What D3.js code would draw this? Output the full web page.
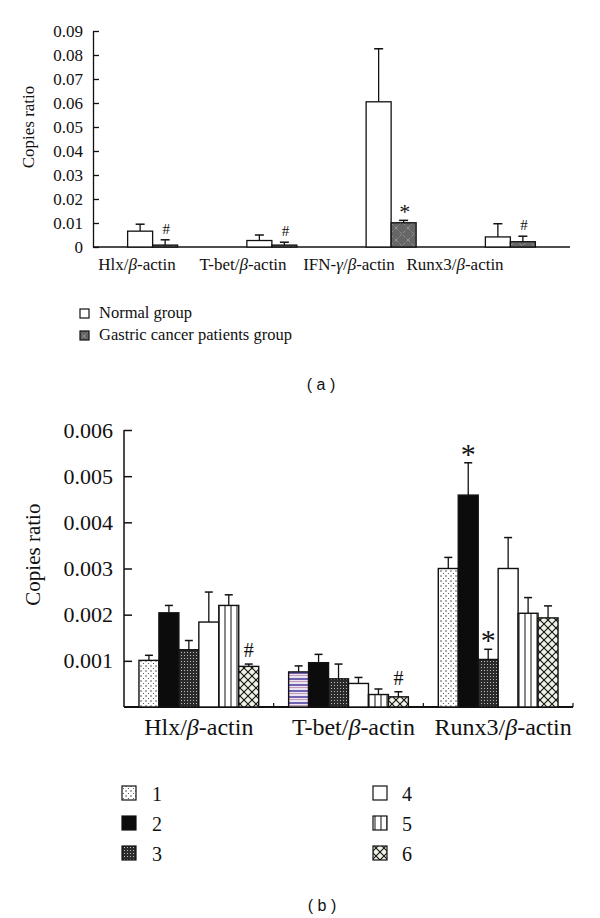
<!DOCTYPE html>
<html>
<head>
<meta charset="utf-8">
<script src="https://cdn.jsdelivr.net/npm/d3@7"></script>
<style>
  body { margin: 0; background: #fff; }
  svg { display: block; }
  text { font-family: "Liberation Serif", "Times New Roman", serif; fill: #111; }
  .panel-tag { font-family: "Liberation Sans", Arial, sans-serif; }
</style>
</head>
<body>
<div id="chart"></div>
<script>
// ---- panel (a) data ----
var genesA = ["Hlx", "T-bet", "IFN-γ", "Runx3"];
var normalA = [0.0066, 0.0027, 0.0605, 0.0042];
var normalErrA = [0.0029, 0.0023, 0.0221, 0.0055];
var gastricA = [0.0008, 0.0008, 0.0101, 0.0022];
var gastricErrA = [0.0022, 0.0012, 0.0010, 0.0023];
var marksA = ["#", "#", "*", "#"];
var ticksA = [0, 0.01, 0.02, 0.03, 0.04, 0.05, 0.06, 0.07, 0.08, 0.09];
var legendA = ["Normal group", "Gastric cancer patients group"];

// ---- panel (b) data ----
var genesB = ["Hlx", "T-bet", "Runx3"];
var groupsB = ["1", "2", "3", "4", "5", "6"];
var hlxB = [0.00101, 0.00204, 0.00124, 0.00184, 0.00220, 0.00088];
var hlxErrB = [0.00011, 0.00016, 0.00020, 0.00065, 0.00023, 0.00005];
var tbetB = [0.00076, 0.00096, 0.00061, 0.00051, 0.00027, 0.00022];
var tbetErrB = [0.00013, 0.00018, 0.00032, 0.00013, 0.00012, 0.00011];
var runx3B = [0.00300, 0.00459, 0.00103, 0.00300, 0.00203, 0.00193];
var runx3ErrB = [0.00024, 0.00070, 0.00022, 0.00067, 0.00034, 0.00026];
var marksB = [["", "", "", "", "", "#"], ["", "", "", "", "", "#"], ["", "*", "*", "", "", ""]];
var ticksB = [0.001, 0.002, 0.003, 0.004, 0.005, 0.006];

var svg = d3.select("#chart").append("svg")
  .attr("width", 600)
  .attr("height", 918);

// ---- fill patterns ----
var defs = svg.append("defs");

var pg = defs.append("pattern").attr("id", "gastric")
  .attr("patternUnits", "userSpaceOnUse").attr("width", 12).attr("height", 12);
pg.append("rect").attr("width", 12).attr("height", 12).attr("fill", "#666");
pg.append("path").attr("d", "M0,12L12,0M0,0L12,12")
  .attr("stroke", "#9a9a9a").attr("stroke-width", 0.8).attr("stroke-dasharray", "3,2");

var p1 = defs.append("pattern").attr("id", "b1")
  .attr("patternUnits", "userSpaceOnUse").attr("width", 5).attr("height", 5);
p1.append("rect").attr("width", 5).attr("height", 5).attr("fill", "#fff");
p1.append("circle").attr("cx", 1).attr("cy", 1).attr("r", 0.7).attr("fill", "#222");
p1.append("circle").attr("cx", 3.5).attr("cy", 3.5).attr("r", 0.6).attr("fill", "#446");

var p3 = defs.append("pattern").attr("id", "b3")
  .attr("patternUnits", "userSpaceOnUse").attr("width", 3).attr("height", 3);
p3.append("rect").attr("width", 3).attr("height", 3).attr("fill", "#2b2b2b");
p3.append("rect").attr("x", 1).attr("y", 1).attr("width", 1).attr("height", 1).attr("fill", "#bbb");

var p5 = defs.append("pattern").attr("id", "b5")
  .attr("patternUnits", "userSpaceOnUse").attr("width", 6).attr("height", 6);
p5.append("rect").attr("width", 6).attr("height", 6).attr("fill", "#fff");
p5.append("line").attr("x1", 3).attr("x2", 3).attr("y1", 0).attr("y2", 6)
  .attr("stroke", "#111").attr("stroke-width", 1);

var p6 = defs.append("pattern").attr("id", "b6")
  .attr("patternUnits", "userSpaceOnUse").attr("width", 8).attr("height", 8);
p6.append("rect").attr("width", 8).attr("height", 8).attr("fill", "#eef3e6");
p6.append("circle").attr("cx", 4).attr("cy", 4).attr("r", 1.6).attr("fill", "#d8e8c8");
p6.append("path").attr("d", "M0,0L8,8M8,0L0,8")
  .attr("stroke", "#111").attr("stroke-width", 1.1);

var pt = defs.append("pattern").attr("id", "bstripe")
  .attr("patternUnits", "userSpaceOnUse").attr("width", 4).attr("height", 6);
pt.append("rect").attr("width", 4).attr("height", 6).attr("fill", "#e9e4f0");
pt.append("rect").attr("y", 0).attr("width", 4).attr("height", 2).attr("fill", "#6f62b0");
pt.append("rect").attr("y", 3).attr("width", 4).attr("height", 1).attr("fill", "#c79ab8");

var fillsB = ["url(#b1)", "#0c0c0c", "url(#b3)", "#fff", "url(#b5)", "url(#b6)"];

// category label with italic greek letters
function geneLabel(sel, name) {
  name.split(/([α-ω])/).forEach(function (part, i) {
    if (part === "") return;
    sel.append("tspan").style("font-style", i % 2 ? "italic" : "normal").text(part);
  });
  sel.append("tspan").text("/");
  sel.append("tspan").style("font-style", "italic").text("β");
  sel.append("tspan").text("-actin");
}

// =================== panel (a) ===================
var xA = d3.scaleBand().domain(genesA).range([93, 570]);
var yA = d3.scaleLinear().domain([0, 0.09]).range([247, 31]);
var bwA = 25;

var gA = svg.append("g");

gA.append("g")
  .attr("transform", "translate(93,0)")
  .call(d3.axisLeft(yA).tickValues(ticksA).tickSizeInner(-6).tickSizeOuter(0).tickPadding(10)
    .tickFormat(d => d === 0 ? "0" : d3.format(".2f")(d)))
  .call(g => g.selectAll("text").style("font-size", "17px").style("font-family", "Liberation Serif"))
  .call(g => g.selectAll("line,path").attr("stroke", "#111").attr("stroke-width", 1.3));

gA.append("line")
  .attr("x1", xA.range()[0]).attr("x2", xA.range()[1])
  .attr("y1", yA(0)).attr("y2", yA(0))
  .attr("stroke", "#111").attr("stroke-width", 1.5);

gA.append("text")
  .attr("transform", "translate(34," + (yA(0.045) - 12) + ") rotate(-90)")
  .attr("text-anchor", "middle")
  .style("font-size", "17px")
  .text("Copies ratio");

function errBar(g, cx, y0, y1, cap) {
  g.append("line").attr("x1", cx).attr("x2", cx).attr("y1", y0).attr("y2", y1)
    .attr("stroke", "#111").attr("stroke-width", 1.3);
  g.append("line").attr("x1", cx - cap / 2).attr("x2", cx + cap / 2).attr("y1", y1).attr("y2", y1)
    .attr("stroke", "#111").attr("stroke-width", 1.5);
}

genesA.forEach(function (gene, i) {
  var cx = xA(gene) + xA.bandwidth() / 2;
  // normal
  errBar(gA, cx - bwA / 2, yA(normalA[i]), yA(normalA[i] + normalErrA[i]), 9);
  gA.append("rect")
    .attr("x", cx - bwA).attr("y", yA(normalA[i]))
    .attr("width", bwA).attr("height", yA(0) - yA(normalA[i]))
    .attr("fill", "#fff").attr("stroke", "#111").attr("stroke-width", 1.3);
  // gastric
  errBar(gA, cx + bwA / 2, yA(gastricA[i]), yA(gastricA[i] + gastricErrA[i]), 9);
  gA.append("rect")
    .attr("x", cx).attr("y", yA(gastricA[i]))
    .attr("width", bwA).attr("height", yA(0) - yA(gastricA[i]))
    .attr("fill", "url(#gastric)").attr("stroke", "#111").attr("stroke-width", 1.3);
  var top = yA(gastricA[i] + gastricErrA[i]);
  var star = marksA[i] === "*";
  gA.append("text")
    .attr("x", cx + bwA / 2 + 1)
    .attr("y", star ? top - 1 : top - 6)
    .attr("text-anchor", "middle")
    .style("font-size", star ? "22px" : "15px")
    .text(marksA[i]);
});

var labA = d3.scalePoint().domain(genesA).range([137, 455]);
genesA.forEach(function (gene) {
  var t = gA.append("text")
    .attr("x", labA(gene)).attr("y", 270)
    .attr("text-anchor", "middle")
    .style("font-size", "17px");
  geneLabel(t, gene);
});

legendA.forEach(function (name, i) {
  gA.append("rect")
    .attr("x", 80).attr("y", 309 + i * 22)
    .attr("width", 9).attr("height", 9)
    .attr("fill", i === 0 ? "#fff" : "url(#gastric)")
    .attr("stroke", "#111").attr("stroke-width", 1.2);
  gA.append("text")
    .attr("x", 99).attr("y", 318 + i * 22)
    .style("font-size", "16.5px")
    .text(name);
});

svg.append("text").attr("class", "panel-tag")
  .attr("x", 321).attr("y", 390)
  .attr("text-anchor", "middle")
  .style("font-size", "16px")
  .text("( a )");

// =================== panel (b) ===================
var xB = d3.scaleBand().domain(genesB).range([124, 573]).paddingInner(0.2).paddingOuter(0.1);
var xB1 = d3.scaleBand().domain(groupsB).range([0, xB.bandwidth()]);
var yB = d3.scaleLinear().domain([0, 0.006]).range([707, 430]);
var valsB = [hlxB, tbetB, runx3B];
var errsB = [hlxErrB, tbetErrB, runx3ErrB];

var gB = svg.append("g");

gB.append("g")
  .attr("transform", "translate(124,0)")
  .call(d3.axisLeft(yB).tickValues(ticksB).tickSizeInner(-8).tickSizeOuter(0).tickPadding(11)
    .tickFormat(d3.format(".3f")))
  .call(g => g.selectAll("text").style("font-size", "22px").style("font-family", "Liberation Serif"))
  .call(g => g.select(".domain").attr("d", "M0," + yB(0) + "V" + yB(0.006)))
  .call(g => g.selectAll("line,path").attr("stroke", "#111").attr("stroke-width", 1.5));

gB.append("line")
  .attr("x1", 124).attr("x2", 573)
  .attr("y1", yB(0)).attr("y2", yB(0))
  .attr("stroke", "#111").attr("stroke-width", 1.8);

// small ticks at the group boundaries
genesB.forEach(function (gene) {
  var bx = xB(gene) + xB.bandwidth() + xB.step() * xB.paddingInner() / 2;
  gB.append("line")
    .attr("x1", bx).attr("x2", bx).attr("y1", yB(0)).attr("y2", yB(0) - 4)
    .attr("stroke", "#111").attr("stroke-width", 1.2);
});

gB.append("text")
  .attr("transform", "translate(40," + yB(0.0033) + ") rotate(-90)")
  .attr("text-anchor", "middle")
  .style("font-size", "21px")
  .text("Copies ratio");

genesB.forEach(function (gene, gi) {
  valsB[gi].forEach(function (v, j) {
    var x0 = xB(gene) + xB1(groupsB[j]);
    var w = xB1.bandwidth();
    var top = yB(v + errsB[gi][j]);
    errBar(gB, x0 + w / 2, yB(v), top, 8);
    var fill = fillsB[j];
    if (gi === 1 && j === 0) fill = "url(#bstripe)";
    gB.append("rect")
      .attr("x", x0).attr("y", yB(v))
      .attr("width", w).attr("height", yB(0) - yB(v))
      .attr("fill", fill).attr("stroke", "#111").attr("stroke-width", 1.4);
    var m = marksB[gi][j];
    if (m) {
      gB.append("text")
        .attr("x", x0 + w / 2).attr("y", m === "*" ? top + 1 : top - 7)
        .attr("text-anchor", "middle")
        .style("font-size", m === "*" ? "30px" : "20px")
        .text(m);
    }
  });
  var t = gB.append("text")
    .attr("x", xB(gene) + xB.bandwidth() / 2 + (gi === 0 ? 0 : 5))
    .attr("y", 735)
    .attr("text-anchor", "middle")
    .style("font-size", "24px");
  geneLabel(t, gene);
});

groupsB.forEach(function (name, j) {
  var col = Math.floor(j / 3), row = j % 3;
  gB.append("rect")
    .attr("x", col ? 373 : 122).attr("y", 786 + row * 30)
    .attr("width", 14).attr("height", 14)
    .attr("fill", fillsB[j]).attr("stroke", "#111").attr("stroke-width", 1.2);
  gB.append("text")
    .attr("x", col ? 402 : 152).attr("y", 801 + row * 30)
    .style("font-size", "20px")
    .text(name);
});

svg.append("text").attr("class", "panel-tag")
  .attr("x", 322).attr("y", 911)
  .attr("text-anchor", "middle")
  .style("font-size", "16px")
  .text("( b )");
</script>
</body>
</html>
